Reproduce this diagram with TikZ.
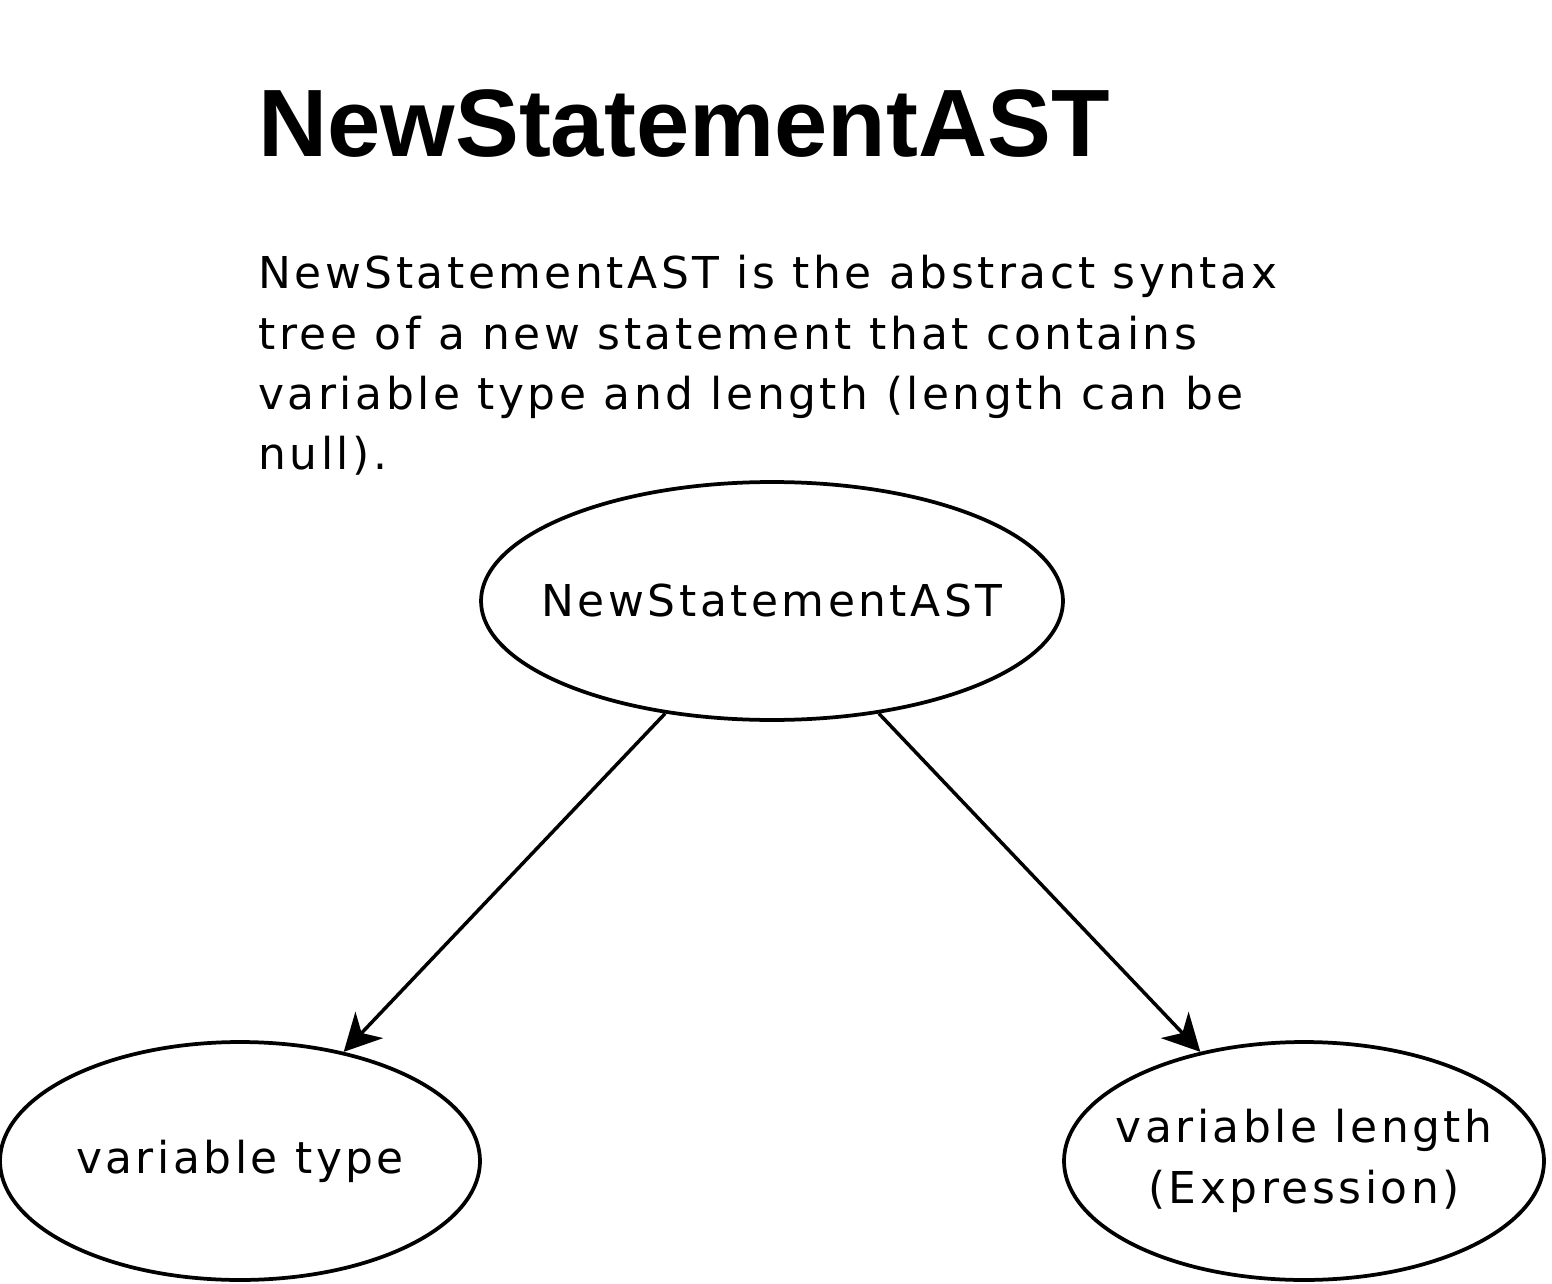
\documentclass[tikz,border=0pt]{standalone}
\usepackage{fontspec}
\setmainfont{DejaVu Sans}
\newfontfamily\titlefont{Liberation Sans}
\usepackage{tikz}
\usetikzlibrary{shapes,arrows.meta,positioning}

\tikzset{
  astnode/.style={ellipse, draw, line width=0.075cm, inner xsep=-1.2cm, inner ysep=0pt,
    minimum width=9.6cm, minimum height=4.76cm, align=center,
    font=\fontsize{25}{34.5}\selectfont\addfontfeature{LetterSpace=8}},
  astedge/.style={line width=0.07cm, -{Stealth[length=0.74cm, width=0.76cm, inset=0.22cm]}},
  txt/.style={inner sep=0pt, anchor=base west,
    font=\fontsize{25}{34.2}\selectfont\addfontfeature{LetterSpace=8}}
}

\begin{document}
\begin{tikzpicture}[x=0.02cm, y=-0.02cm]
\useasboundingbox (0,0) rectangle (1552,1284);
% title and text
 \node[inner sep=0pt, anchor=base west, font=\titlefont\bfseries\fontsize{54.5}{60}\selectfont] (title) at (258,157) {NewStatementAST};
 \node[txt] (line1) at (258,289) {NewStatementAST is the abstract syntax};
 \node[txt] (line2) at (258,349) {tree of a new statement that contains};
 \node[txt] (line3) at (258,409) {variable type and length (length can be};
 \node[txt] (line4) at (258,469) {null).};

% nodes
 \node[astnode, minimum width=11.64cm] (stmt) at (772,601) {NewStatementAST};
 \node[astnode] (type) at (240,1161) {variable type};
 \node[astnode] (len) at (1304,1161) {variable length\\(Expression)};

% edges
 \draw[astedge] (stmt) -- (type);
 \draw[astedge] (stmt) -- (len);
\end{tikzpicture}
\end{document}
